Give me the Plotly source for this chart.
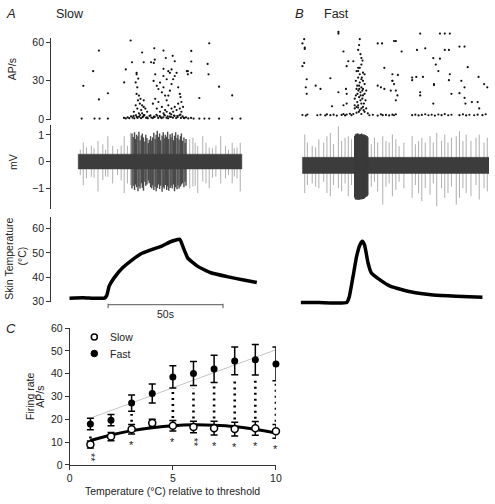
import plotly.graph_objects as go

# ---------------- DATA ----------------
# Panel A (slow) instantaneous firing rate: (time s, AP/s)
a_rate_points = [
    (6.3, 26.0), (10.6, 37.4), (13.1, 65.3), (13.1, 53.4), (13.1, 15.4), (17.0, 20.2),
    (24.1, 28.6), (24.8, 38.7), (26.9, 61.2), (27.5, 44.3), (29.5, 34.9), (31.9, 51.9),
    (32.6, 44.3), (35.8, 44.3), (37.2, 65.3), (37.2, 55.2), (37.4, 46.3), (37.6, 34.9),
    (41.2, 65.3), (41.2, 53.4), (42.2, 47.6), (45.2, 49.3), (51.8, 37.4), (51.8, 34.9),
    (53.3, 53.1), (53.7, 65.3), (53.3, 44.9), (56.8, 16.5), (61.1, 59.0), (60.4, 43.0),
    (60.8, 34.9), (65.4, 25.3), (71.1, 18.5), (37.0, 43.8), (41.2, 39.2), (46.1, 45.1),
    (51.4, 37.4), (53.3, 36.1),
    (29.1, 28.6), (29.8, 24.8), (29.5, 19.7), (30.5, 18.4), (31.2, 15.9), (30.1, 14.7),
    (30.9, 12.1), (31.9, 10.8), (32.6, 14.7), (33.3, 8.3), (31.5, 7.1), (29.8, 8.3),
    (29.1, 10.8), (28.3, 5.8), (30.5, 4.6), (31.9, 4.6), (32.6, 3.3), (34.1, 5.8),
    (29.5, 36.1), (30.2, 31.6), (32.6, 9.6),
    (36.9, 29.8), (38.3, 26.0), (39.0, 23.5), (39.7, 28.5), (40.5, 20.9), (41.2, 24.8),
    (41.9, 18.4), (42.6, 14.7), (43.3, 18.4), (44.0, 22.2), (44.7, 27.3), (45.4, 31.1),
    (46.1, 33.6), (46.9, 36.1), (47.6, 24.8), (48.3, 19.7), (48.6, 17.2), (49.0, 13.4),
    (47.6, 12.1), (46.1, 9.6), (44.7, 8.3), (43.3, 10.8), (41.9, 7.1), (40.5, 9.6),
    (39.0, 13.4), (37.6, 15.9), (36.6, 12.1), (38.3, 8.3), (39.7, 5.8), (41.2, 4.6),
    (42.6, 5.8), (44.0, 4.6), (45.4, 5.8), (46.9, 7.1), (48.3, 8.3), (49.0, 5.8),
    (49.7, 9.6), (44.7, 38.7), (43.3, 37.4), (41.2, 33.6), (42.6, 31.1), (44.0, 36.1),
    (5.6, 0.5), (11.2, 0.5), (13.4, 0.5), (17.0, 0.5), (24.0, 1.0), (24.8, 0.6),
    (25.6, 1.5), (26.3, 0.8), (27.1, 2.2), (27.8, 1.2), (28.5, 0.7), (29.2, 3.0),
    (29.9, 1.0), (30.6, 2.0), (31.4, 0.8), (32.1, 1.6), (32.9, 3.2), (33.6, 1.1),
    (34.4, 0.7), (35.1, 2.5), (35.9, 1.3), (36.6, 0.9), (37.4, 1.8), (38.1, 3.5),
    (38.9, 1.0), (39.6, 2.4), (40.4, 0.8), (41.1, 1.5), (41.8, 2.9), (42.5, 1.1),
    (43.2, 0.7), (43.9, 2.0), (44.6, 3.8), (45.3, 1.2), (46.0, 2.6), (46.7, 0.9),
    (47.4, 1.7), (48.1, 3.1), (48.8, 1.0), (49.5, 2.2), (50.2, 0.8), (51.0, 1.4),
    (52.0, 0.6), (53.2, 1.0), (54.3, 0.5), (56.8, 0.5), (59.0, 0.5), (61.1, 0.5),
    (65.4, 0.5), (71.1, 0.5), (74.7, 0.5), (28.2, 2.6), (29.6, 1.9), (31.0, 3.3),
    (32.5, 2.4), (34.0, 1.5), (35.5, 3.0), (37.0, 2.1), (38.5, 2.7), (40.0, 1.6),
    (41.5, 3.4), (43.0, 2.3), (44.4, 1.8), (45.8, 2.9), (47.2, 2.5), (48.6, 3.6),
    (50.0, 1.3),
]

# Panel B (fast) instantaneous firing rate: (time s, AP/s)
b_rate_points = [
    (1.6, 60.0), (0.85, 56.7), (1.85, 53.4), (1.85, 52.4), (0.85, 39.0), (1.6, 41.5),
    (2.7, 28.8), (2.3, 22.5), (2.7, 17.5), (6.6, 23.8), (8.7, 21.3), (13.0, 29.6),
    (16.5, 18.7), (13.7, 7.8), (16.5, 65.6), (16.5, 64.3), (18.7, 50.4), (20.1, 39.0),
    (20.1, 17.5), (19.8, 21.3), (18.7, 8.6), (20.1, 9.9), (20.8, 42.8), (23.0, 42.8),
    (25.8, 60.0), (25.5, 55.4), (25.1, 51.6), (26.1, 48.3), (26.5, 45.3), (27.0, 43.3),
    (25.1, 37.7), (24.4, 35.2), (25.8, 32.7), (27.2, 33.9), (25.1, 30.1), (26.5, 28.8),
    (24.1, 27.6), (25.8, 26.3), (27.9, 25.1), (24.7, 23.8), (26.5, 22.5), (27.2, 21.3),
    (25.2, 20.0), (26.1, 18.7), (27.9, 17.5), (24.1, 16.2), (25.5, 14.9), (26.9, 13.7),
    (28.3, 12.4), (24.7, 11.1), (26.5, 9.9), (25.1, 8.6), (27.2, 7.3), (28.6, 6.1),
    (23.6, 6.1), (25.8, 4.8), (27.9, 3.5), (24.4, 2.8), (29.3, 2.3), (26.5, 1.8),
    (23.0, 1.8), (25.1, 6.8), (27.2, 16.2), (28.6, 20.0), (23.6, 13.7), (24.4, 21.3),
    (27.2, 27.6), (25.8, 37.7), (27.9, 32.7), (26.5, 40.2), (23.6, 8.6), (26.5, 6.1),
    (25.5, 23.8), (26.9, 20.0), (26.1, 12.4), (24.8, 17.5), (27.6, 9.9), (25.4, 3.5),
    (26.7, 30.1), (25.1, 35.2), (26.2, 16.2), (24.4, 7.3), (27.5, 4.8), (25.6, 21.3),
    (33.6, 56.7), (35.5, 56.7), (40.7, 58.5), (36.5, 37.7), (33.6, 23.8), (36.5, 21.3),
    (40.0, 27.6), (39.3, 20.0), (35.0, 22.5),
    (41.5, 58.5), (44.0, 50.4), (40.0, 32.7), (40.0, 27.6), (40.7, 25.1), (41.5, 20.0),
    (42.2, 16.2), (41.5, 12.4), (42.4, 32.2), (48.6, 30.1), (48.6, 28.1), (50.7, 51.6),
    (50.4, 30.6), (53.3, 30.6), (52.1, 64.3), (54.3, 52.9), (52.1, 18.7), (52.1, 16.2),
    (57.8, 45.3), (60.7, 44.8), (58.9, 40.2), (60.7, 64.3), (62.8, 64.3), (65.0, 64.3),
    (62.8, 51.6), (64.6, 51.6), (60.0, 35.2), (58.1, 25.1), (58.1, 24.3), (57.8, 9.9),
    (65.0, 32.7), (64.6, 28.1), (65.7, 17.5), (69.2, 54.2), (71.4, 54.2), (70.0, 27.6),
    (71.4, 22.5), (72.8, 38.2), (69.2, 18.0), (71.4, 14.4), (71.8, 9.9), (74.6, 11.1),
    (77.5, 30.6), (79.9, 25.1), (81.3, 22.5), (77.1, 11.1), (77.8, 6.1),
    (0.85, 1.0), (2.3, 0.6), (3.0, 1.4), (7.3, 0.8), (8.7, 1.2), (10.8, 0.7), (11.5, 1.5),
    (13.0, 0.9), (14.4, 1.3), (15.8, 0.6), (17.9, 1.1), (18.7, 1.8), (19.4, 0.7),
    (20.1, 1.4), (21.5, 2.0), (22.2, 0.9), (30.0, 0.8), (31.5, 1.2), (33.6, 0.6),
    (35.0, 1.5), (35.8, 0.9), (37.2, 1.1), (38.6, 0.7), (40.0, 1.3), (40.7, 0.8),
    (41.5, 1.6), (48.6, 0.9), (50.0, 1.3), (51.4, 0.7), (52.8, 1.1), (54.3, 1.6),
    (55.7, 0.8), (57.1, 1.2), (58.5, 0.6), (60.0, 1.4), (61.4, 0.9), (62.8, 1.7),
    (64.3, 0.8), (65.7, 1.2), (69.2, 0.9), (70.7, 1.5), (72.1, 0.7), (73.5, 1.2),
    (75.6, 0.8), (77.1, 1.3), (79.2, 0.9), (80.6, 1.6),
]

# Extracellular recording (mV): baseline noise band and spikes
a_band_t = [4.1, 75.3]
a_band_mv = [-0.27, 0.28]
a_spike_t = [5.0, 6.3, 7.7, 9.8, 11.0, 12.7, 14.8, 16.0, 17.0, 19.1, 21.2, 22.8, 24.1, 25.5,
             26.9, 52.6, 54.0, 55.0, 56.1, 58.3, 59.7, 61.1, 62.5, 64.0, 66.1, 68.2, 69.5,
             71.1, 72.0, 73.2, 74.6]
a_spike_top = [0.45, 0.71, 0.53, 0.59, 0.5, 0.77, 0.65, 0.45, 0.95, 0.59, 0.47, 0.6, 0.95,
               0.59, 1.07, 0.83, 0.89, 0.7, 0.59, 0.95, 0.71, 0.53, 0.5, 0.59, 0.95, 0.59,
               0.45, 0.71, 0.5, 0.53, 0.71]
a_spike_bot = [-0.5, -0.87, -0.62, -0.56, -0.6, -1.11, -0.68, -0.55, -0.56, -0.81, -0.5,
               -0.7, -1.17, -0.81, -0.87, -0.99, -0.93, -0.9, -1.17, -0.74, -0.81, -0.99,
               -0.6, -0.56, -0.81, -0.62, -0.5, -0.81, -0.55, -0.62, -1.11]
a_burst_t = [27.5, 28.0, 28.6, 29.0, 29.5, 30.1, 30.5, 31.0, 31.6, 32.0, 32.5, 33.1, 33.5,
             34.0, 34.6, 35.0, 35.6, 36.1, 36.5, 37.0, 37.6, 38.0, 38.5, 39.1, 39.5, 40.0,
             40.6, 41.1, 41.5, 42.0, 42.6, 43.0, 43.5, 44.1, 44.5, 45.0, 45.6, 46.0, 46.5,
             47.1, 47.5, 48.0, 48.6, 49.0, 49.5, 50.1, 50.6, 51.0]
a_burst_top = [1.05, 0.92, 1.1, 0.85, 1.0, 0.95, 1.12, 0.8, 0.98, 1.05, 0.9, 0.75, 1.0, 0.88,
               0.7, 0.82, 0.95, 0.78, 0.9, 1.08, 0.85, 1.0, 1.15, 0.92, 1.05, 0.8, 0.98, 1.1,
               0.87, 1.0, 0.93, 1.12, 0.85, 1.02, 0.9, 1.06, 0.8, 0.97, 1.1, 0.88, 1.0, 0.83,
               0.95, 1.05, 0.78, 0.9, 0.7, 0.85]
a_burst_bot = [-1.0, -0.9, -1.05, -0.85, -0.95, -1.1, -0.92, -1.0, -0.8, -0.97, -1.08, -0.75,
               -0.9, -0.85, -0.7, -0.8, -0.95, -1.0, -0.88, -1.05, -0.93, -1.1, -0.98, -0.85,
               -1.02, -0.9, -1.12, -0.95, -1.0, -0.87, -1.05, -0.92, -1.08, -0.98, -0.9, -1.0,
               -0.85, -1.1, -0.95, -1.03, -0.88, -1.0, -0.92, -0.85, -0.8, -0.95, -0.75, -0.9]

b_band_t = [0.85, 82.05]
b_band_mv = [-0.30, 0.30]
b_spike_t = [1.85, 3.0, 5.1, 6.6, 8.0, 10.1, 11.5, 13.0, 14.4, 16.5, 17.9, 19.4, 20.8, 22.2,
             30.8, 32.2, 33.6, 35.8, 37.2, 38.6, 40.0, 41.5, 42.9, 45.0, 48.6, 50.0, 51.4,
             52.8, 54.3, 56.4, 57.8, 59.3, 61.4, 62.8, 64.2, 65.7, 67.8, 69.2, 70.7, 72.1,
             74.2, 76.4, 77.8, 79.9, 81.3]
b_spike_top = [1.15, 0.85, 0.72, 0.67, 0.97, 0.85, 1.09, 1.21, 0.79, 1.45, 0.91, 1.03, 1.09,
               0.97, 0.79, 1.03, 0.85, 1.09, 0.91, 0.85, 1.15, 0.97, 0.72, 0.85, 1.09, 0.79,
               0.91, 1.03, 0.85, 1.09, 0.85, 1.21, 0.91, 1.15, 0.85, 1.03, 1.09, 1.27, 0.91,
               1.15, 0.91, 1.03, 1.15, 0.85, 1.03]
b_spike_bot = [-1.03, -0.73, -0.67, -0.79, -0.85, -0.61, -1.03, -1.15, -0.73, -0.85, -0.97,
               -0.67, -1.15, -0.73, -0.79, -0.61, -0.97, -1.46, -0.79, -0.67, -1.15, -0.91,
               -0.61, -0.85, -1.21, -0.73, -1.03, -1.33, -0.85, -1.09, -0.67, -1.52, -0.85,
               -1.21, -1.03, -0.79, -1.46, -1.21, -0.85, -1.03, -1.15, -0.73, -1.27, -0.85,
               -0.97]
b_burst_t = [23.6, 23.9, 24.2, 24.5, 24.8, 25.1, 25.4, 25.7, 26.0, 26.3, 26.6, 26.9, 27.2,
             27.5, 27.8, 28.1, 28.4, 28.7, 29.0, 29.3]
b_burst_top = [1.1, 1.15, 1.18, 1.14, 1.2, 1.16, 1.18, 1.13, 1.17, 1.15, 1.19, 1.14, 1.16,
               1.12, 1.15, 1.1, 1.13, 1.08, 1.1, 1.05]
b_burst_bot = [-1.2, -1.26, -1.28, -1.25, -1.27, -1.29, -1.26, -1.28, -1.25, -1.27, -1.24,
               -1.26, -1.23, -1.25, -1.22, -1.2, -1.18, -1.16, -1.15, -1.1]

# Skin temperature (°C) over time (s)
a_temp_t = [0.3, 6.3, 10.6, 15.5, 16.5, 17.6, 19.8, 23.4, 27.6, 31.9, 37.6, 40.5, 44.0,
            48.3, 49.7, 51.8, 56.1, 61.8, 68.9, 76.1, 81.8]
a_temp = [31.5, 31.7, 31.5, 31.5, 32.5, 36.5, 39.9, 43.9, 47.2, 49.9, 51.9, 52.8, 54.5,
          55.6, 52.5, 47.9, 44.5, 41.9, 40.3, 38.9, 37.9]
b_temp_t = [0.1, 8.0, 20.1, 21.2, 22.9, 24.4, 25.8, 26.9, 27.9, 29.4, 30.8, 34.3, 39.3,
            47.9, 57.8, 67.8, 79.2]
b_temp = [29.7, 29.7, 29.7, 31.9, 40.5, 48.5, 53.2, 54.8, 53.2, 45.9, 41.9, 39.2, 36.3,
          34.1, 32.8, 32.3, 31.9]
scale_bar_start = 17.1
scale_bar_len = 50

# Panel C: firing rate vs temperature relative to threshold
temp_rel = [1, 2, 3, 4, 5, 6, 7, 8, 9, 10]
slow_mean = [8.9, 12.4, 15.6, 18.3, 17.1, 16.6, 16.1, 15.7, 16.0, 14.7]
slow_sem = [1.5, 1.8, 2.1, 1.7, 2.3, 2.5, 3.0, 3.0, 3.0, 3.0]
fast_mean = [17.9, 19.6, 27.1, 31.3, 38.6, 40.1, 42.1, 45.6, 46.1, 44.3]
fast_sem = [2.5, 2.5, 3.6, 4.2, 4.9, 5.3, 6.0, 6.1, 6.7, 7.4]
slow_fit = [10.7, 13.1, 15.0, 16.3, 17.2, 17.6, 17.4, 16.8, 15.6, 13.9]
fast_fit_x = [1, 10]
fast_fit_y = [20.5, 50.5]
n_stars = [2, 0, 1, 0, 1, 2, 1, 1, 1, 1]

# ---------------- LAYOUT HELPERS ----------------
W, H = 495, 504
FONT = "Liberation Sans, Arial, sans-serif"
AX = "#333333"


def dx(l, r):
    return [l / W, r / W]


def dy(top, bot):
    return [1 - bot / H, 1 - top / H]


def px(p):
    return p / W


def py(p):
    return 1 - p / H


def segs(ts, tops, bots):
    xs, ys = [], []
    for t, a, b in zip(ts, tops, bots):
        xs += [t, t, None]
        ys += [b, a, None]
    return xs, ys


def band(ts, mv):
    return ([ts[0], ts[1], ts[1], ts[0], ts[0]], [mv[0], mv[0], mv[1], mv[1], mv[0]])


fig = go.Figure()

# ---- Panel A ----
fig.add_trace(go.Scatter(x=[p[0] for p in a_rate_points], y=[p[1] for p in a_rate_points],
                         mode="markers", marker=dict(size=2.2, color="#111"),
                         xaxis="x", yaxis="y", cliponaxis=False))
sx, sy = segs(a_spike_t, a_spike_top, a_spike_bot)
fig.add_trace(go.Scatter(x=sx, y=sy, mode="lines", line=dict(width=0.8, color="#9a9a9a"),
                         xaxis="x", yaxis="y2"))
sx, sy = segs(a_burst_t, a_burst_top, a_burst_bot)
fig.add_trace(go.Scatter(x=sx, y=sy, mode="lines", line=dict(width=1.4, color="#4a4a4a"),
                         xaxis="x", yaxis="y2"))
bx, by = band(a_band_t, a_band_mv)
fig.add_trace(go.Scatter(x=bx, y=by, mode="lines", fill="toself", fillcolor="#3c3c3c",
                         line=dict(width=0.5, color="#3c3c3c"), xaxis="x", yaxis="y2"))
fig.add_trace(go.Scatter(x=a_temp_t, y=a_temp, mode="lines",
                         line=dict(width=3.5, color="black", shape="spline", smoothing=0.4),
                         xaxis="x", yaxis="y3"))

# ---- Panel B ----
fig.add_trace(go.Scatter(x=[p[0] for p in b_rate_points], y=[p[1] for p in b_rate_points],
                         mode="markers", marker=dict(size=2.2, color="#111"),
                         xaxis="x2", yaxis="y4", cliponaxis=False))
sx, sy = segs(b_spike_t, b_spike_top, b_spike_bot)
fig.add_trace(go.Scatter(x=sx, y=sy, mode="lines", line=dict(width=0.8, color="#9a9a9a"),
                         xaxis="x2", yaxis="y5"))
bx, by = band(b_band_t, b_band_mv)
fig.add_trace(go.Scatter(x=bx, y=by, mode="lines", fill="toself", fillcolor="#3c3c3c",
                         line=dict(width=0.5, color="#3c3c3c"), xaxis="x2", yaxis="y5"))
sx, sy = segs(b_burst_t, b_burst_top, b_burst_bot)
fig.add_trace(go.Scatter(x=sx, y=sy, mode="lines", line=dict(width=1.4, color="#3a3a3a"),
                         xaxis="x2", yaxis="y5"))
fig.add_trace(go.Scatter(x=b_temp_t, y=b_temp, mode="lines",
                         line=dict(width=3.5, color="black", shape="spline", smoothing=0.4),
                         xaxis="x2", yaxis="y6"))

# ---- Panel C ----
fig.add_trace(go.Scatter(x=fast_fit_x, y=fast_fit_y, mode="lines",
                         line=dict(width=1, color="#c4c4c4"), xaxis="x3", yaxis="y7"))
dxs, dys = [], []
for x, n, s, se, f, fe in zip(temp_rel, n_stars, slow_mean, slow_sem, fast_mean, fast_sem):
    if n > 0:
        dxs += [x, x, None]
        dys += [s + se + 1.2, f - fe - 1.2, None]
fig.add_trace(go.Scatter(x=dxs, y=dys, mode="lines",
                         line=dict(width=2.6, color="black", dash="2px,4px"),
                         xaxis="x3", yaxis="y7"))
fig.add_trace(go.Scatter(x=temp_rel, y=slow_fit, mode="lines",
                         line=dict(width=3, color="black", shape="spline"),
                         xaxis="x3", yaxis="y7"))
fig.add_trace(go.Scatter(x=temp_rel, y=fast_mean, mode="markers",
                         marker=dict(size=7, color="black"),
                         error_y=dict(type="data", array=fast_sem, color="black",
                                      thickness=1.5, width=3.5),
                         xaxis="x3", yaxis="y7", cliponaxis=False))
fig.add_trace(go.Scatter(x=temp_rel, y=slow_mean, mode="markers",
                         marker=dict(size=7, color="white", line=dict(width=1.5, color="black")),
                         error_y=dict(type="data", array=slow_sem, color="black",
                                      thickness=1.5, width=3.5),
                         xaxis="x3", yaxis="y7", cliponaxis=False))

# ---- Axes ----
yaxis_common = dict(showline=True, linecolor=AX, linewidth=1, ticks="outside", ticklen=4,
                    tickcolor=AX, tickwidth=1, showgrid=False, zeroline=False,
                    tickfont=dict(size=10.5, family=FONT, color="#222"))
hidden = dict(visible=False, showgrid=False, zeroline=False)

fig.update_layout(
    width=W, height=H, margin=dict(l=0, r=0, t=0, b=0),
    paper_bgcolor="white", plot_bgcolor="white", showlegend=False,
    font=dict(family=FONT, size=10.5, color="#222"),
    xaxis=dict(domain=dx(60, 262), range=[-3.0, 83.3], **hidden),
    xaxis2=dict(domain=dx(303, 495), range=[0, 82.05], anchor="y4", **hidden),
    xaxis3=dict(domain=dx(68, 278), range=[0, 10], anchor="y7", tickvals=[0, 5, 10],
                **yaxis_common),
    yaxis=dict(domain=dy(33, 117), range=[-0.76, 63.0], anchor="free", position=px(48),
               tickvals=[0, 30, 60], **yaxis_common),
    yaxis2=dict(domain=dy(122, 208), range=[-1.764, 1.364], anchor="free", position=px(48),
                tickvals=[-1, 0, 1], **yaxis_common),
    yaxis3=dict(domain=dy(216, 303), range=[30, 64.8], anchor="free", position=px(48),
                tickvals=[30, 40, 50, 60], **yaxis_common),
    yaxis4=dict(domain=dy(20, 115), range=[-1.52, 70.6], anchor="x2", **hidden),
    yaxis5=dict(domain=dy(118, 212), range=[-1.771, 1.647], anchor="x2", **hidden),
    yaxis6=dict(domain=dy(210, 310), range=[27.2, 67.2], anchor="x2", **hidden),
    yaxis7=dict(domain=dy(330, 470), range=[0, 60], anchor="x3",
                tickvals=[0, 10, 20, 30, 40, 50, 60], **yaxis_common),
)

# Scale bar (50 s)
sb0, sb1 = scale_bar_start, scale_bar_start + scale_bar_len
shapes = [
    dict(type="line", xref="x", yref="paper", x0=sb0, x1=sb1, y0=py(306), y1=py(306),
         line=dict(color="#555", width=1)),
    dict(type="line", xref="x", yref="paper", x0=sb0, x1=sb0, y0=py(305), y1=py(309.5),
         line=dict(color="#555", width=1)),
    dict(type="line", xref="x", yref="paper", x0=sb1, x1=sb1, y0=py(305), y1=py(309.5),
         line=dict(color="#555", width=1)),
    # legend markers for panel C
    dict(type="circle", xref="paper", yref="paper", xsizemode="pixel", ysizemode="pixel",
         xanchor=px(93), yanchor=py(339), x0=-3, x1=3, y0=-3, y1=3,
         fillcolor="white", line=dict(color="black", width=1.5)),
    dict(type="circle", xref="paper", yref="paper", xsizemode="pixel", ysizemode="pixel",
         xanchor=px(93), yanchor=py(356), x0=-3.3, x1=3.3, y0=-3.3, y1=3.3,
         fillcolor="black", line=dict(color="black", width=1)),
]
fig.update_layout(shapes=shapes)


def ann(text, x, y, size=10.5, angle=0, xanchor="center", italic=False, **kw):
    t = f"<i>{text}</i>" if italic else text
    return dict(text=t, x=px(x), y=py(y), xref="paper", yref="paper", showarrow=False,
                textangle=angle, xanchor=xanchor, yanchor="middle",
                font=dict(size=size, family=FONT, color="#222"), **kw)


annotations = [
    ann("A", 8, 8, size=13, italic=True),
    ann("Slow", 52, 8, size=12.5, xanchor="left"),
    ann("B", 302, 8, size=13, italic=True),
    ann("Fast", 325, 8, size=12.5, xanchor="left"),
    ann("C", 8.5, 330, size=13, italic=True),
    ann("AP/s", 10, 65, angle=-90),
    ann("mV", 10, 160, angle=-90),
    ann("Skin Temperature", 6, 259, angle=-90),
    ann("(°C)", 19, 256, angle=-90),
    ann("Firing rate", 28, 400, angle=-90),
    ann("AP/s", 38, 400, angle=-90),
    ann("Temperature (°C) relative to threshold", 173, 497),
    ann("Slow", 107, 339, xanchor="left"),
    ann("Fast", 107, 356, xanchor="left"),
    dict(text="50s", x=(sb0 + sb1) / 2, y=py(315), xref="x", yref="paper", showarrow=False,
         font=dict(size=10.5, family=FONT, color="#222"), yanchor="middle"),
]

# significance asterisks below slow-group error bars (double = rotated "**")
for x, n, s, se in zip(temp_rel, n_stars, slow_mean, slow_sem):
    if n > 0:
        annotations.append(dict(text="*" * n, x=x, y=s - se, xref="x3", yref="y7",
                                showarrow=False, yanchor="top", xanchor="center",
                                textangle=90 if n > 1 else 0, yshift=-3,
                                font=dict(size=11, family=FONT, color="#222")))

fig.update_layout(annotations=annotations)

fig.write_html("out.html", config={"displayModeBar": False},
               post_script="document.body.style.margin='0';")
